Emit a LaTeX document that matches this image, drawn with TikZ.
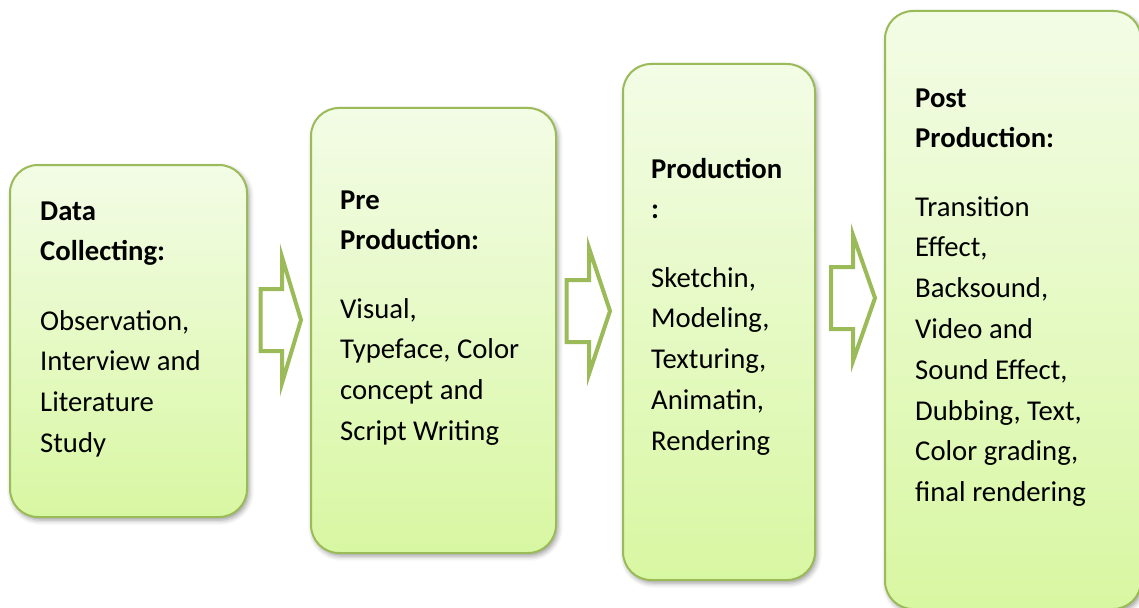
\documentclass[tikz,border=0pt]{standalone}
\usepackage{fontspec}
\setmainfont{Carlito}
\usetikzlibrary{shadows.blur}
\definecolor{edgegreen}{HTML}{9BBB59}
\definecolor{boxtop}{HTML}{F3FCE6}
\definecolor{boxbot}{HTML}{D8F7A2}
\begin{document}
\begin{tikzpicture}[x=1pt,y=-1pt,
  stagebox/.style={draw=edgegreen, line width=2pt, rounded corners=28pt,
    top color=boxtop, bottom color=boxbot, inner sep=0pt,
    blur shadow={shadow xshift=2pt, shadow yshift=-3pt, shadow blur radius=5pt, shadow opacity=40}},
  blockarrow/.style={draw=edgegreen, line width=4pt, fill=white, line join=miter, miter limit=20},
  txt/.style={anchor=base west, inner sep=0pt, font=\fontsize{28.7}{34}\selectfont},
  hd/.style={txt, font=\fontsize{28.7}{34}\selectfont\bfseries}]
\useasboundingbox (0,0) rectangle (1139,607);
% boxes
\node[stagebox, minimum width=237, minimum height=352] (box1) at (128.5,341) {};
\node[stagebox, minimum width=245, minimum height=445] (box2) at (433.5,330.5) {};
\node[stagebox, minimum width=192, minimum height=516] (box3) at (719,322) {};
\node[stagebox, minimum width=256, minimum height=598] (box4) at (1013,310) {};
% block arrows
\foreach \xl/\xn/\xt/\yc in {260.5/282/301/320, 566.5/589/610/311, 831/853/875/298}
  \draw[blockarrow] (\xl,\yc-31) -- (\xn,\yc-31) -- (\xn,\yc-63) -- (\xt,\yc)
     -- (\xn,\yc+63) -- (\xn,\yc+31) -- (\xl,\yc+31) -- cycle;
% box 1 text
\foreach \t [count=\i from 0] in {Data, Collecting:}
  \node[hd] (t1h\i) at (40,220+40.8*\i) {\t};
\foreach \t [count=\i from 0] in {{Observation,}, Interview and, Literature, Study}
  \node[txt] (t1b\i) at (40,330+40.8*\i) {\t};
% box 2 text
\foreach \t [count=\i from 0] in {Pre, Production:}
  \node[hd] (t2h\i) at (340,209+40.8*\i) {\t};
\foreach \t [count=\i from 0] in {{Visual,}, {Typeface, Color}, concept and, Script Writing}
  \node[txt] (t2b\i) at (340,318+40.8*\i) {\t};
% box 3 text
\foreach \t [count=\i from 0] in {Production, :}
  \node[hd] (t3h\i) at (651,178+40.8*\i) {\t};
\foreach \t [count=\i from 0] in {{Sketchin,}, {Modeling,}, {Texturing,}, {Animatin,}, Rendering}
  \node[txt] (t3b\i) at (651,287+40.8*\i) {\t};
% box 4 text
\foreach \t [count=\i from 0] in {Transition, {Effect,}, {Backsound,}, Video and, {Sound Effect,}, {Dubbing, Text,}, {Color grading,}, final rendering}
  \node[txt] (t4b\i) at (915,216+40.8*\i) {\t};
\foreach \t [count=\i from 0] in {Post, Production:}
  \node[hd] (t4h\i) at (915,107+40.8*\i) {\t};
\end{tikzpicture}
\end{document}
